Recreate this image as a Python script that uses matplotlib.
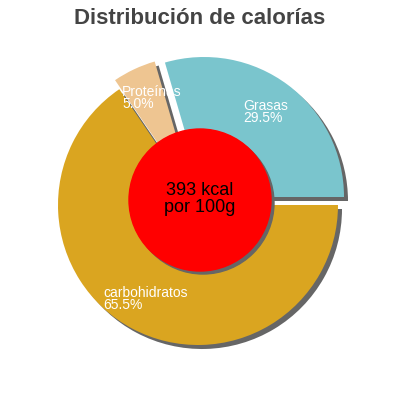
import matplotlib.pyplot as plt
from matplotlib.patches import Circle

# data
categories = ['Grasas', 'Proteínas', 'carbohidratos']
values = [29.5, 5.0, 65.5]
pct_labels = ['29.5%', '5.0%', '65.5%']
colors = ['#7AC5CD', '#EEC591', '#DAA520']
explode = [10, 10, 0]  # offsets in pixels (data units)
kcal_text = '393 kcal\npor 100g'
title = 'Distribución de calorías'

plt.rcParams['font.family'] = ['Liberation Sans', 'DejaVu Sans']

fig = plt.figure(figsize=(4, 4), dpi=100)
ax = fig.add_axes([0, 0, 1, 1])

cx, cy, r = 198, 195, 140

# shadow first, then the coloured slices
ax.pie(values, explode=explode, radius=r, center=(cx + 4, cy - 4),
       startangle=0, colors=['#666666'] * 3, frame=True)
ax.pie(values, explode=explode, radius=r, center=(cx, cy),
       startangle=0, colors=colors, frame=True)
ax.set_xlim(0, 400)
ax.set_ylim(0, 400)
ax.set_aspect('equal')
ax.axis('off')

# centre circle
ax.add_patch(Circle((203, 197), 71, color='#666666', zorder=3))
ax.add_patch(Circle((200, 200), 71, color='#FF0000', zorder=4))
ax.text(200, 201, kcal_text, ha='center', va='center', fontsize=13,
        color='black', zorder=5, linespacing=1.0)

label_pos = [(243, 288), (122, 302), (103, 101)]
for name, pct, (x, y) in zip(categories, pct_labels, label_pos):
    ax.text(x, y, name + '\n' + pct, ha='left', va='center', fontsize=10,
            color='white', zorder=6, linespacing=0.85)

fig.text(0.5, 0.955, title, ha='center', va='center', fontsize=16,
         fontweight='bold', color='#444444')

fig.savefig('out.png', dpi=100)
